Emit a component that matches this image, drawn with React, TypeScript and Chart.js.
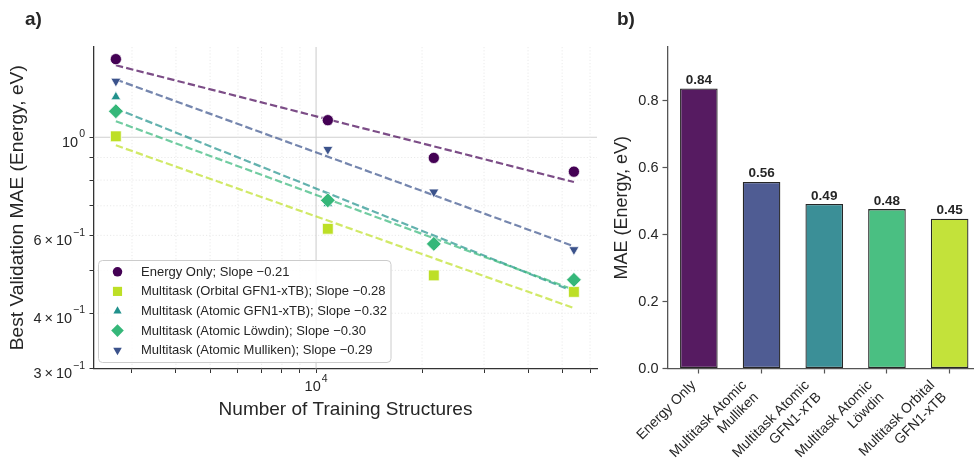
import React, { useEffect, useRef } from 'react';
import { Chart, registerables } from 'chart.js';

Chart.register(...registerables);

const FONT = '"Liberation Sans", Arial, Helvetica, sans-serif';
const TEXT = '#262626';

// ---------- Panel a) data ----------
const trainSizes = [2700, 10800, 21600, 54000];
const legendNames = [
  'Energy Only',
  'Multitask (Orbital GFN1-xTB)',
  'Multitask (Atomic GFN1-xTB)',
  'Multitask (Atomic Löwdin)',
  'Multitask (Atomic Mulliken)',
];
const slopeLabels = ['−0.21', '−0.28', '−0.32', '−0.30', '−0.29'];
const energyOnly = [1.502, 1.093, 0.898, 0.836];
const orbitalGfn = [1.005, 0.621, 0.487, 0.447];
const atomicGfn = [1.234, 0.708, 0.572, 0.479];
const atomicLowdin = [1.145, 0.72, 0.574, 0.476];
const atomicMulliken = [1.339, 0.939, 0.752, 0.557];
const fitStart = [1.455, 0.959, 1.161, 1.087, 1.351];
const fitEnd = [0.792, 0.411, 0.448, 0.452, 0.567];
const seriesColors = ['#440154', '#bddf26', '#21918c', '#35b779', '#3b528b'];
const markerStyles = ['circle', 'rect', 'triangle', 'rectRot', 'triangleDown'];
const markerRadii = [5.6, 7.6, 5.6, 7.4, 5.8];

const yTicks = [0.3, 0.4, 0.5, 0.6, 0.7, 0.8, 0.9, 1.0];
const yTickLabels = ['3\u2009×\u200910^−1', '4\u2009×\u200910^−1', '', '6\u2009×\u200910^−1', '', '', '', '10^0'];
const yMajor = [1.0];
const xTicks = [3000, 4000, 5000, 6000, 7000, 8000, 9000, 10000, 20000, 30000, 40000, 50000, 60000];
const xTickLabels = ['', '', '', '', '', '', '', '10^4', '', '', '', '', ''];
const xMajor = [10000];

// ---------- Panel b) data ----------
const barCategories = [
  ['Energy Only'],
  ['Multitask Atomic', 'Mulliken'],
  ['Multitask Atomic', 'GFN1-xTB'],
  ['Multitask Atomic', 'Löwdin'],
  ['Multitask Orbital', 'GFN1-xTB'],
];
const barValues = [0.836, 0.557, 0.491, 0.476, 0.447];
const barColors = ['#561b61', '#4f5c93', '#3b8f97', '#4abf82', '#c3e23a'];
const barTicks = [0, 0.2, 0.4, 0.6, 0.8];

const seriesValues = [energyOnly, orbitalGfn, atomicGfn, atomicLowdin, atomicMulliken];

function rgba(hex: string, a: number) {
  const n = parseInt(hex.slice(1), 16);
  return `rgba(${(n >> 16) & 255},${(n >> 8) & 255},${n & 255},${a})`;
}

function drawMarker(ctx: CanvasRenderingContext2D, style: string, x: number, y: number, r: number, fill: string) {
  ctx.beginPath();
  if (style === 'circle') ctx.arc(x, y, r, 0, Math.PI * 2);
  else if (style === 'rect') {
    const s = r * Math.SQRT1_2;
    ctx.rect(x - s, y - s, 2 * s, 2 * s);
  } else if (style === 'triangle') {
    ctx.moveTo(x, y - r);
    ctx.lineTo(x + r * 0.866, y + r * 0.5);
    ctx.lineTo(x - r * 0.866, y + r * 0.5);
    ctx.closePath();
  } else if (style === 'triangleDown') {
    ctx.moveTo(x, y + r);
    ctx.lineTo(x + r * 0.866, y - r * 0.5);
    ctx.lineTo(x - r * 0.866, y - r * 0.5);
    ctx.closePath();
  } else {
    ctx.moveTo(x - r, y);
    ctx.lineTo(x, y - r);
    ctx.lineTo(x + r, y);
    ctx.lineTo(x, y + r);
    ctx.closePath();
  }
  ctx.fillStyle = fill;
  ctx.fill();
}

function drawSci(ctx: CanvasRenderingContext2D, label: string, x: number, y: number, align: 'right' | 'center') {
  if (!label) return;
  const [base, exp] = label.split('^');
  ctx.font = `14.5px ${FONT}`;
  const bw = ctx.measureText(base).width;
  ctx.font = `10.5px ${FONT}`;
  const ew = exp ? ctx.measureText(exp).width + 1 : 0;
  const total = bw + ew;
  const x0 = align === 'right' ? x - total : x - total / 2;
  ctx.fillStyle = TEXT;
  ctx.textAlign = 'left';
  ctx.textBaseline = 'alphabetic';
  ctx.font = `14.5px ${FONT}`;
  ctx.fillText(base, x0, y + 9.4);
  if (exp) {
    ctx.font = `10.5px ${FONT}`;
    ctx.fillText(exp, x0 + bw + 1, y + 0.2);
  }
}

const leftPlugin = {
  id: 'leftDecor',
  beforeDatasetsDraw(chart: any) {
    const { ctx, chartArea: a, scales } = chart;
    const sx = scales.x;
    const sy = scales.y;
    ctx.save();
    yTicks.forEach((v) => {
      const py = sy.getPixelForValue(v);
      if (py >= a.bottom - 0.5 || py <= a.top) return;
      const major = yMajor.includes(v);
      ctx.beginPath();
      ctx.strokeStyle = major ? '#cfcfcf' : '#e4e4e4';
      ctx.lineWidth = major ? 1.1 : 0.8;
      ctx.setLineDash(major ? [] : [1.2, 2]);
      ctx.moveTo(a.left, py);
      ctx.lineTo(a.right, py);
      ctx.stroke();
    });
    xTicks.forEach((v) => {
      const px = sx.getPixelForValue(v);
      if (px <= a.left + 0.5 || px >= a.right) return;
      const major = xMajor.includes(v);
      ctx.beginPath();
      ctx.strokeStyle = major ? '#cfcfcf' : '#e4e4e4';
      ctx.lineWidth = major ? 1.1 : 0.8;
      ctx.setLineDash(major ? [] : [1.2, 2]);
      ctx.moveTo(px, a.top);
      ctx.lineTo(px, a.bottom);
      ctx.stroke();
    });
    ctx.restore();
  },
  afterDatasetsDraw(chart: any) {
    const { ctx, chartArea: a } = chart;
    ctx.save();
    const bx = a.left + 4.5;
    const by = a.bottom - 108;
    const bw = 292.5;
    const bh = 102;
    ctx.beginPath();
    ctx.roundRect(bx, by, bw, bh, 4);
    ctx.fillStyle = 'rgba(255,255,255,0.85)';
    ctx.fill();
    ctx.strokeStyle = '#cccccc';
    ctx.lineWidth = 1;
    ctx.stroke();
    legendNames.forEach((name, i) => {
      const cy = by + 11.3 + i * 19.6;
      drawMarker(ctx, markerStyles[i], bx + 19, cy, markerRadii[i] * 0.85, seriesColors[i]);
      ctx.fillStyle = TEXT;
      ctx.font = `13px ${FONT}`;
      ctx.textAlign = 'left';
      ctx.textBaseline = 'middle';
      ctx.fillText(`${name}; Slope ${slopeLabels[i]}`, bx + 42.5, cy + 0.5);
    });
    ctx.restore();
  },
  afterDraw(chart: any) {
    const { ctx, chartArea: a, scales } = chart;
    ctx.save();
    yTicks.forEach((v, i) => {
      drawSci(ctx, yTickLabels[i], a.left - 9, scales.y.getPixelForValue(v), 'right');
    });
    xTicks.forEach((v, i) => {
      drawSci(ctx, xTickLabels[i], scales.x.getPixelForValue(v), a.bottom + 13, 'center');
    });
    ctx.restore();
  },
};

const rightPlugin = {
  id: 'rightDecor',
  afterDatasetsDraw(chart: any) {
    const { ctx } = chart;
    const meta = chart.getDatasetMeta(0);
    ctx.save();
    ctx.font = `bold 13.5px ${FONT}`;
    ctx.fillStyle = TEXT;
    ctx.textAlign = 'center';
    ctx.textBaseline = 'alphabetic';
    meta.data.forEach((bar: any, i: number) => {
      ctx.fillText(barValues[i].toFixed(2), bar.x, bar.y - 4.5);
    });
    ctx.restore();
  },
  afterDraw(chart: any) {
    const { ctx, scales } = chart;
    const sx = scales.x;
    ctx.save();
    ctx.font = `14px ${FONT}`;
    ctx.fillStyle = TEXT;
    ctx.textAlign = 'right';
    ctx.textBaseline = 'top';
    const lh = 16.8;
    const s = Math.SQRT1_2;
    barCategories.forEach((lines, i) => {
      const tx = sx.getPixelForTick(i);
      const H = lines.length * lh;
      ctx.save();
      ctx.translate(tx - H * s + 1, sx.top + 9);
      ctx.rotate(-Math.PI / 4);
      lines.forEach((ln, k) => ctx.fillText(ln, 0, k * lh + 1));
      ctx.restore();
    });
    ctx.restore();
  },
};

export default function App() {
  const leftRef = useRef<HTMLCanvasElement>(null);
  const rightRef = useRef<HTMLCanvasElement>(null);

  useEffect(() => {
    const pointSets: any[] = legendNames.map((name, i) => ({
      type: 'scatter',
      label: name,
      data: trainSizes.map((x, j) => ({ x, y: seriesValues[i][j] })),
      pointStyle: markerStyles[i] === 'triangleDown' ? 'triangle' : markerStyles[i],
      pointRotation: markerStyles[i] === 'triangleDown' ? 180 : 0,
      pointRadius: markerRadii[i],
      pointHoverRadius: markerRadii[i],
      backgroundColor: seriesColors[i],
      borderColor: '#ffffff',
      borderWidth: 0.7,
      showLine: false,
      order: 5 - i,
    }));
    const fitSets: any[] = legendNames.map((name, i) => ({
      type: 'line',
      label: name + ' fit',
      data: [
        { x: trainSizes[0], y: fitStart[i] },
        { x: trainSizes[trainSizes.length - 1], y: fitEnd[i] },
      ],
      borderColor: rgba(seriesColors[i], 0.7),
      borderWidth: 2.2,
      borderDash: [7.4, 3.2],
      pointRadius: 0,
      fill: false,
      order: 20 - i,
    }));

    const left = new Chart(leftRef.current as HTMLCanvasElement, {
      type: 'scatter',
      data: { datasets: [...fitSets, ...pointSets] },
      options: {
        animation: false,
        responsive: false,
        layout: { autoPadding: false, padding: { top: 47, right: 3, bottom: 35.5, left: 0 } },
        plugins: { legend: { display: false }, tooltip: { enabled: false } },
        scales: {
          x: {
            type: 'logarithmic',
            min: 2340,
            max: 62800,
            afterBuildTicks: (s: any) => {
              s.ticks = xTicks.map((v) => ({ value: v }));
            },
            afterFit: (s: any) => {
              s.height = 60;
            },
            ticks: { autoSkip: false, maxRotation: 0, callback: () => '' },
            grid: { drawOnChartArea: false, drawTicks: true, tickLength: 4.5, color: '#333', tickWidth: 1 },
            border: { display: true, color: '#333', width: 1.3 },
            title: {
              display: true,
              text: 'Number of Training Structures',
              color: TEXT,
              font: { family: FONT, size: 19 },
              padding: { top: 0, bottom: 7 },
            },
          },
          y: {
            type: 'logarithmic',
            min: 0.3,
            max: 1.6,
            afterBuildTicks: (s: any) => {
              s.ticks = yTicks.map((v) => ({ value: v }));
            },
            afterFit: (s: any) => {
              s.width = 94;
            },
            ticks: { autoSkip: false, callback: () => '' },
            grid: { drawOnChartArea: false, drawTicks: true, tickLength: 4.5, color: '#333', tickWidth: 1 },
            border: { display: true, color: '#333', width: 1.3 },
            title: {
              display: true,
              text: 'Best Validation MAE (Energy, eV)',
              color: TEXT,
              font: { family: FONT, size: 19.2 },
              padding: { top: 6.5, bottom: 0 },
            },
          },
        },
      } as any,
      plugins: [leftPlugin],
    } as any);

    const right = new Chart(rightRef.current as HTMLCanvasElement, {
      type: 'bar',
      data: {
        labels: barCategories.map((l) => l.join(' ')),
        datasets: [
          {
            data: barValues,
            backgroundColor: barColors,
            borderColor: '#262626',
            borderWidth: 1.3,
            borderSkipped: false,
            barPercentage: 0.6,
            categoryPercentage: 1,
          },
        ],
      },
      options: {
        animation: false,
        responsive: false,
        layout: { autoPadding: false, padding: { top: 47, right: 9, bottom: 0, left: 0 } },
        plugins: { legend: { display: false }, tooltip: { enabled: false } },
        scales: {
          x: {
            afterFit: (s: any) => {
              s.height = 95.5;
            },
            ticks: { autoSkip: false, maxRotation: 0, minRotation: 0, callback: () => '' },
            grid: { offset: false, drawOnChartArea: false, drawTicks: true, tickLength: 5, color: '#555', tickWidth: 1.2 },
            border: { display: true, color: '#555', width: 1.3 },
          },
          y: {
            min: 0,
            max: 0.96,
            afterBuildTicks: (s: any) => {
              s.ticks = barTicks.map((v) => ({ value: v }));
            },
            afterFit: (s: any) => {
              s.width = 67.5;
            },
            ticks: {
              color: TEXT,
              font: { family: FONT, size: 14.5 },
              padding: 4,
              callback: (v: any) => Number(v).toFixed(1),
            },
            grid: { drawOnChartArea: false, drawTicks: true, tickLength: 5, color: '#555', tickWidth: 1.2 },
            border: { display: true, color: '#555', width: 1.3 },
            title: {
              display: true,
              text: 'MAE (Energy, eV)',
              color: TEXT,
              font: { family: FONT, size: 18 },
              padding: { top: 11, bottom: 0 },
            },
          },
        },
      } as any,
      plugins: [rightPlugin],
    } as any);

    return () => {
      left.destroy();
      right.destroy();
    };
  }, []);

  const panelLabel: React.CSSProperties = {
    position: 'absolute',
    top: 9,
    font: `bold 19px ${FONT}`,
    lineHeight: '20px',
    color: TEXT,
  };

  return (
    <div style={{ position: 'fixed', left: 0, top: 0, width: 974, height: 464, overflow: 'hidden', background: '#ffffff' }}>
      <canvas ref={leftRef} width={600} height={464} style={{ position: 'absolute', left: 0, top: 0 }} />
      <canvas ref={rightRef} width={390} height={464} style={{ position: 'absolute', left: 600, top: 0 }} />
      <div style={{ ...panelLabel, left: 25 }}>a)</div>
      <div style={{ ...panelLabel, left: 617 }}>b)</div>
    </div>
  );
}
